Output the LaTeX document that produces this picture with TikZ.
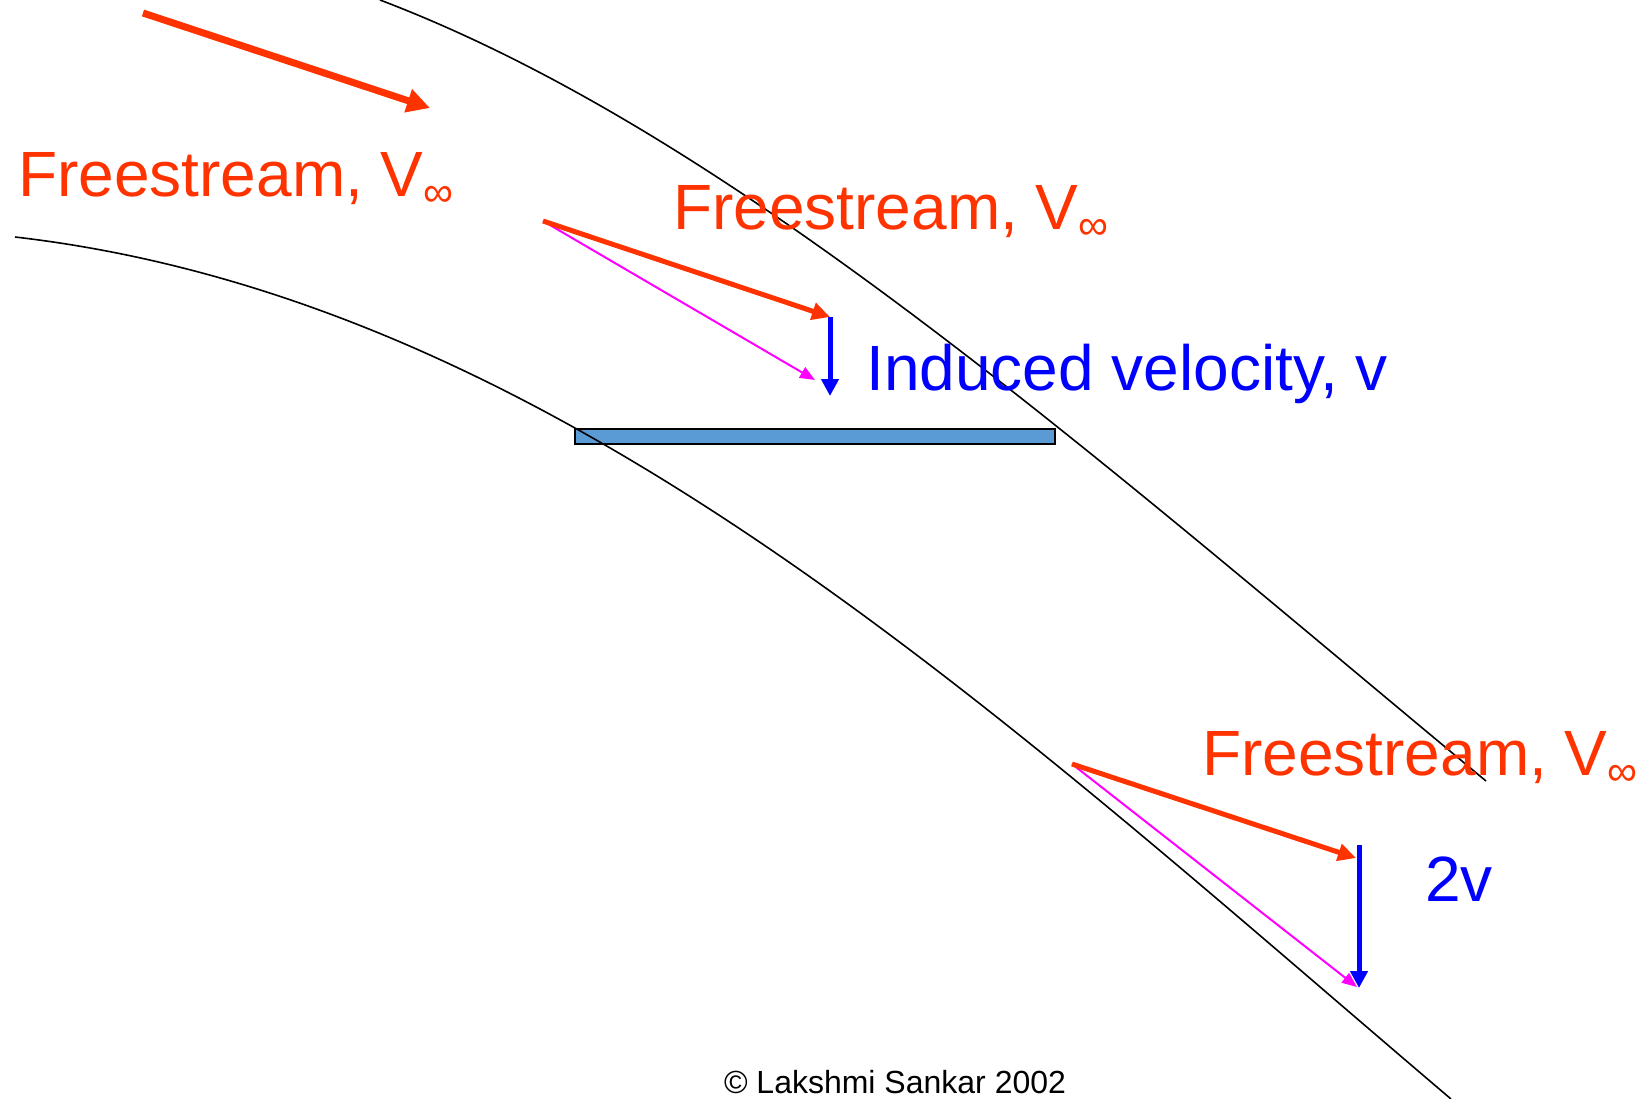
\documentclass[tikz,border=0pt]{standalone}
\usepackage{fontspec}
\setmainfont{Liberation Sans}
\usetikzlibrary{arrows.meta}

\definecolor{streamred}{RGB}{255,51,0}
\definecolor{rotorblue}{RGB}{91,155,213}
\definecolor{sumpink}{RGB}{255,0,255}
\newcommand{\vinf}{V\raisebox{-10pt}{\fontsize{42}{42}\selectfont ∞}}

\begin{document}
\begin{tikzpicture}[x=1pt,y=-1pt,
	bigtext/.style={inner sep=0pt,anchor=base west,font=\fontsize{64}{70}\selectfont},
	streamline/.style={line width=1.6pt},
	freearrow/.style={streamred,line width=5pt,-{Triangle[length=18pt,width=17pt]}},
	inducedarrow/.style={blue,line width=5pt,-{Triangle[length=17pt,width=17pt]}},
	sumarrow/.style={sumpink,line width=2pt,-{Triangle[length=15pt,width=12pt]}}]
		\useasboundingbox (0,0) rectangle (1643,1099);
		
		% rotor disk and streamtube
		\draw[line width=2pt,fill=rotorblue] (575,429) rectangle (1055,444);
		\draw[streamline] (380,0) .. controls (730,133) and (1086,449) .. (1486,781);
		\draw[streamline] (15,237) .. controls (560,300) and (1001,716.5) .. (1451,1099);
		
		% far upstream
		\coordinate (up0) at (143,13);
		\coordinate (up1) at (430,108);
		\draw[streamred,line width=7pt,-{Triangle[length=23pt,width=23pt]}] (up0) to (up1);
		\node[bigtext,text=streamred] (freeup) at (18,197) {Freestream, \vinf};
		
		% at the rotor
		\coordinate (rot0) at (543,221);
		\coordinate (rot1) at (830,317);
		\coordinate (rot2) at (830,396);
		\coordinate (rot3) at (815,380);
		\draw[sumarrow] (rot0) to (rot3);
		\draw[freearrow] (rot0) to (rot1);
		\draw[inducedarrow] (rot1) to (rot2);
		\node[bigtext,text=streamred] (freerot) at (673,230) {Freestream, \vinf};
		\node[bigtext,text=blue] (induced) at (866,390) {Induced velocity, v};
		
		% far wake
		\coordinate (wk0) at (1072,764);
		\coordinate (wk1) at (1356,858);
		\coordinate (wk2) at (1359,845);
		\coordinate (wk3) at (1359,988);
		\draw[sumarrow] (wk0) to (1357,987);
		\draw[freearrow] (wk0) to (wk1);
		\draw[inducedarrow] (wk2) to (wk3);
		\node[bigtext,text=streamred] (freewake) at (1202,775) {Freestream, \vinf};
		\node[bigtext,text=blue] (twov) at (1425,901) {2v};
		
		\node[inner sep=0pt,anchor=base,font=\fontsize{32}{36}\selectfont] (credit) at (895,1093) {© Lakshmi Sankar 2002};
	\end{tikzpicture}
\end{document}
